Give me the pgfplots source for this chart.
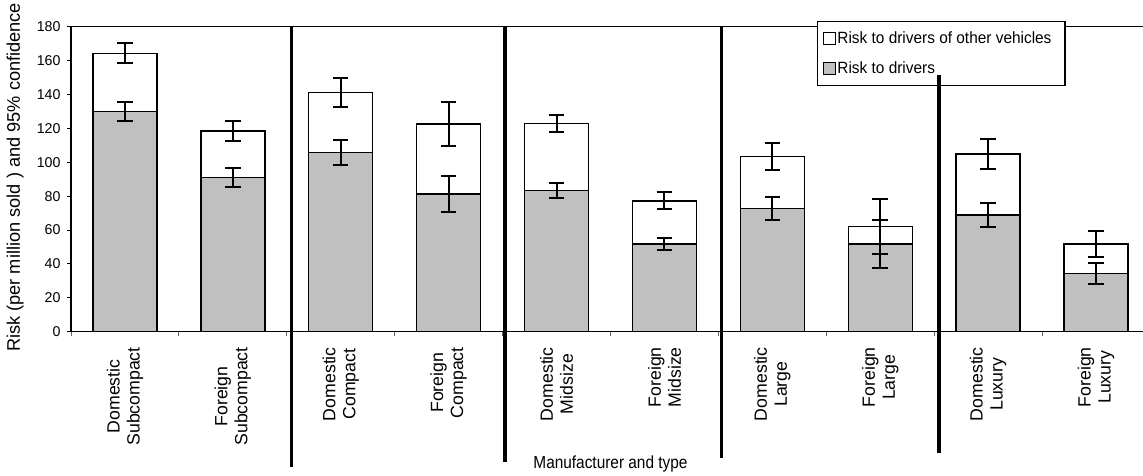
\documentclass[border=0pt]{standalone}
\usepackage{pgfplots}
\pgfplotsset{compat=1.18}
\usepackage{pgfplotstable}
\usepackage{fontspec}
\setmainfont{Liberation Sans}
\newfontfamily\legfont[FakeStretch=0.945]{Liberation Sans}
\newfontfamily\xlabfont[FakeStretch=0.88]{Liberation Sans}
\definecolor{bargray}{RGB}{192,192,192}

\pgfplotstableread{
x drivers other
0 130.0 34.3
1 91.0 27.5
2 105.7 35.6
3 81.3 41.3
4 83.4 39.6
5 51.8 25.4
6 72.8 30.5
7 51.8 10.4
8 68.9 36.0
9 34.4 17.4
}\riskdata

\pgfplotstableread{
x y err
0 130.0 5.4
1 91.0 5.4
2 105.7 7.5
3 81.3 10.6
4 83.4 4.3
5 51.8 3.7
6 72.8 6.6
7 51.8 14.0
8 68.9 7.3
9 34.4 6.0
}\drvErr

\pgfplotstableread{
x y err
0 164.3 5.9
1 118.5 5.9
2 141.3 8.5
3 122.6 13.2
4 123.0 4.9
5 77.2 5.0
6 103.3 8.1
7 62.2 16.1
8 104.9 8.9
9 51.8 7.6
}\totErr

\begin{document}
\begin{tikzpicture}
\begin{axis}[
  at={(0,0)}, anchor=south west,
  scale only axis, width=1079pt, height=305pt,
  xmin=-0.5, xmax=9.5, ymin=0, ymax=180,
  ybar stacked, bar width=64pt,
  axis line style={line width=1.3pt},
  ytick={0,20,...,180},
  xtick={0,...,9},
  xticklabels={{Domestic\\Subcompact},{Foreign\\Subcompact},{Domestic\\Compact},{Foreign\\Compact},{Domestic\\Midsize},{Foreign\\Midsize},{Domestic\\Large},{Foreign\\Large},{Domestic\\Luxury},{Foreign\\Luxury}},
  minor xtick={-0.5,0.5,...,9.5},
  xtick pos=bottom, ytick pos=left,
  tick align=outside,
  major tick length=4pt, minor tick length=4pt,
  major x tick style={draw=none},
  minor x tick style={line width=0.8pt, black!60},
  major y tick style={line width=1pt, black},
  /pgf/number format/assume math mode=true,
  yticklabel style={font=\fontsize{14.2}{16}\selectfont, xshift=-3pt},
  xticklabel style={rotate=90, anchor=east, align=center, font=\fontsize{17.7}{20}\selectfont, xshift=-8pt},
  ylabel={Risk (per million sold ) and 95\% confidence},
  ylabel style={at={([xshift=-51pt]rel axis cs:0,0.506)}, anchor=base, font=\fontsize{18.2}{20}\selectfont},
  xlabel={Manufacturer and type},
  xlabel style={at={(axis cs:4.5,-81)}, anchor=base, font=\fontsize{17.5}{20}\xlabfont},
  reverse legend,
  legend cell align=left,
  legend image code/.code={\draw[#1, line width=1.3pt] (0pt,-6pt) rectangle (12pt,6pt);},
  legend style={at={(rel axis cs:0.6914,1.0187)}, anchor=north west, draw=black, line width=1.3pt, fill=white,
    font=\fontsize{16.3}{18}\legfont, inner xsep=5pt, inner ysep=8pt, row sep=13pt,
    nodes={inner xsep=1.5pt, inner ysep=2pt}},
]
\addplot[fill=bargray, draw=black, line width=1.4pt] table[x=x, y=drivers] {\riskdata};
\addlegendentry{Risk to drivers}
\addplot[fill=white, draw=black, line width=1.4pt] table[x=x, y=other] {\riskdata};
\addlegendentry{Risk to drivers of other vehicles\hspace*{7pt}}
\end{axis}

\begin{axis}[
  at={(0,0)}, anchor=south west,
  scale only axis, width=1079pt, height=305pt,
  xmin=-0.5, xmax=9.5, ymin=0, ymax=180,
  hide axis, clip=false,
]
\addplot[draw=none, mark=none, forget plot,
  error bars/.cd, y dir=both, y explicit, error mark=|,
  error bar style={draw=black, line width=2pt},
  error mark options={draw=black, line width=2pt, mark size=7.75pt}]
  table[x=x, y=y, y error=err] {\drvErr};
\addplot[draw=none, mark=none, forget plot,
  error bars/.cd, y dir=both, y explicit, error mark=|,
  error bar style={draw=black, line width=2pt},
  error mark options={draw=black, line width=2pt, mark size=7.75pt}]
  table[x=x, y=y, y error=err] {\totErr};
\draw[line width=3.5pt] (axis cs:1.545,180) -- (axis cs:1.545,-79.7);
\draw[line width=3.5pt] (axis cs:3.522,180) -- (axis cs:3.522,-76.7);
\draw[line width=3.5pt] (axis cs:5.531,180) -- (axis cs:5.531,-74.3);
\draw[line width=3.5pt] (axis cs:7.544,151.5) -- (axis cs:7.544,-71.6);
\end{axis}
\pgfresetboundingbox
\path[use as bounding box] (-71pt,-143.3pt) rectangle (1072pt,331.7pt);
\end{tikzpicture}
\end{document}
